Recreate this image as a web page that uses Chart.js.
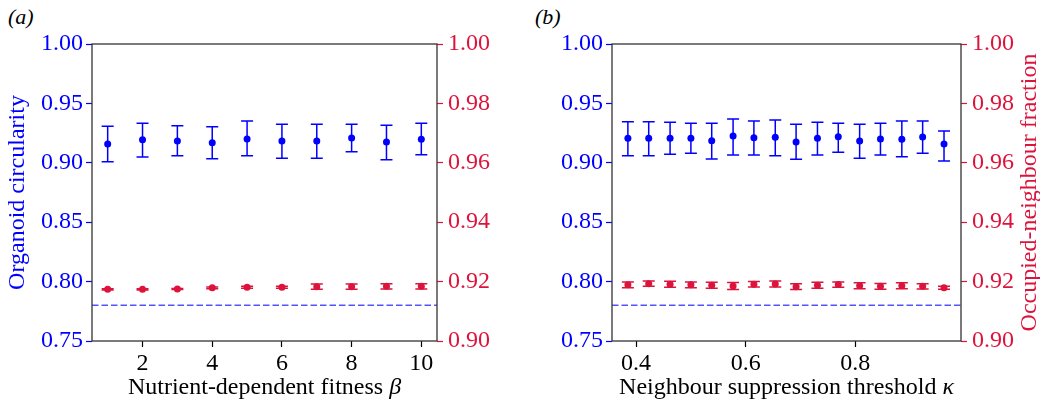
<!DOCTYPE html>
<html>
<head>
<meta charset="utf-8">
<script src="https://cdn.jsdelivr.net/npm/chart.js@4.4.1/dist/chart.umd.min.js"></script>
<style>
  body { margin: 0; background: #fff; width: 1040px; height: 406px; position: relative; overflow: hidden; }
  canvas { position: absolute; top: 0; }
  #chartA { left: 0; }
  #chartB { left: 520px; }
  .panel-tag { position: absolute; top: 4px; font: italic 22px "Liberation Serif", serif; color: #000; }
</style>
</head>
<body>
<span class="panel-tag" style="left:8px">(a)</span>
<span class="panel-tag" style="left:535px">(b)</span>
<canvas id="chartA" width="520" height="406"></canvas>
<canvas id="chartB" width="520" height="406"></canvas>
<script>
// panel (a): nutrient-dependent fitness beta
var betaValues = [1, 2, 3, 4, 5, 6, 7, 8, 9, 10];
var circA     = [0.9158, 0.9194, 0.9184, 0.9169, 0.9200, 0.9184, 0.9184, 0.9209, 0.9175, 0.9198];
var circALow  = [0.9009, 0.9049, 0.9060, 0.9034, 0.9060, 0.9038, 0.9038, 0.9093, 0.9026, 0.9068];
var circAHigh = [0.9307, 0.9332, 0.9312, 0.9304, 0.9352, 0.9324, 0.9324, 0.9324, 0.9316, 0.9332];
var occA      = [0.9174, 0.9174, 0.9175, 0.9179, 0.9181, 0.9181, 0.9183, 0.9183, 0.9184, 0.9184];
var occAErr   = [0.0002, 0.0002, 0.0002, 0.0003, 0.0003, 0.0003, 0.0009, 0.0009, 0.0009, 0.0009];

// panel (b): neighbour suppression threshold kappa
var kappaValues = [0.385, 0.423, 0.462, 0.500, 0.538, 0.577, 0.615, 0.654, 0.692, 0.731, 0.769, 0.808, 0.846, 0.885, 0.923, 0.962];
var circB     = [0.9206, 0.9206, 0.9206, 0.9206, 0.9186, 0.9226, 0.9211, 0.9215, 0.9175, 0.9206, 0.9220, 0.9184, 0.9200, 0.9198, 0.9217, 0.9158];
var circBLow  = [0.9060, 0.9060, 0.9072, 0.9080, 0.9032, 0.9066, 0.9066, 0.9060, 0.9029, 0.9066, 0.9088, 0.9038, 0.9066, 0.9051, 0.9080, 0.9015];
var circBHigh = [0.9346, 0.9346, 0.9341, 0.9333, 0.9333, 0.9369, 0.9352, 0.9360, 0.9324, 0.9341, 0.9333, 0.9324, 0.9333, 0.9352, 0.9352, 0.9268];
var occB      = [0.9189, 0.9193, 0.9191, 0.9189, 0.9188, 0.9185, 0.9191, 0.9192, 0.9183, 0.9188, 0.9190, 0.9186, 0.9184, 0.9186, 0.9184, 0.9179];
var occBErr   = [0.0010, 0.0009, 0.0010, 0.0010, 0.0010, 0.0012, 0.0009, 0.0010, 0.0010, 0.0010, 0.0009, 0.0010, 0.0010, 0.0010, 0.0009, 0.0005];

var baselineCirc = 0.78;

var xTicksA = [2, 4, 6, 8, 10];
var xTicksB = [0.4, 0.6, 0.8];
var yTicksLeft = [0.75, 0.80, 0.85, 0.90, 0.95, 1.00];
var yTicksRight = [0.90, 0.92, 0.94, 0.96, 0.98, 1.00];

var BLUE = '#0000ff';
var CRIMSON = '#dc143c';
var SERIF = '"Liberation Serif", "Times New Roman", serif';

toPoints = function(xs, ys) {
  return xs.map(function(x, i) { return {x: x, y: ys[i]}; });
}

fixTicks = function(values) {
  return function(scale) {
    scale.ticks = values.map(function(v) { return {value: v}; });
  };
}

// error bars, frame and the axis labels that Chart.js cannot style (italic symbol, bottom-to-top right label)
var extrasPlugin = {
  id: 'extras',
  beforeDatasetsDraw: function(chart) {
    var ctx = chart.ctx;
    chart.data.datasets.forEach(function(ds) {
      if (!ds.errLow) return;
      var xs = chart.scales.x, ys = chart.scales[ds.yAxisID];
      ctx.save();
      ctx.strokeStyle = ds.borderColor;
      ctx.lineWidth = 1.5;
      ds.data.forEach(function(p, k) {
        var px = xs.getPixelForValue(p.x);
        var top = ys.getPixelForValue(ds.errHigh[k]);
        var bot = ys.getPixelForValue(ds.errLow[k]);
        ctx.beginPath();
        ctx.moveTo(px, top); ctx.lineTo(px, bot);
        ctx.moveTo(px - 6, top); ctx.lineTo(px + 6, top);
        ctx.moveTo(px - 6, bot); ctx.lineTo(px + 6, bot);
        ctx.stroke();
      });
      ctx.restore();
    });
  },
  afterDraw: function(chart, args, opts) {
    var ctx = chart.ctx, a = chart.chartArea;
    ctx.save();
    ctx.strokeStyle = '#333';
    ctx.lineWidth = 1.3;
    ctx.strokeRect(a.left, a.top, a.right - a.left, a.bottom - a.top);

    ctx.textBaseline = 'middle';
    ctx.fillStyle = '#000';
    ctx.font = '24px ' + SERIF;
    var w1 = ctx.measureText(opts.xLabel).width;
    ctx.font = 'italic 24px ' + SERIF;
    var w2 = ctx.measureText(opts.xSymbol).width;
    var x0 = (a.left + a.right) / 2 - (w1 + w2) / 2;
    ctx.textAlign = 'left';
    ctx.font = '24px ' + SERIF;
    ctx.fillText(opts.xLabel, x0, 388);
    ctx.font = 'italic 24px ' + SERIF;
    ctx.fillText(opts.xSymbol, x0 + w1, 388);

    if (opts.rightLabel) {
      ctx.translate(chart.width - 10, (a.top + a.bottom) / 2);
      ctx.rotate(-Math.PI / 2);
      ctx.textAlign = 'center';
      ctx.fillStyle = CRIMSON;
      ctx.font = '24px ' + SERIF;
      ctx.fillText(opts.rightLabel, 0, 0);
    }
    ctx.restore();
  }
};

makePanel = function(canvasId, xs, circ, circLow, circHigh, occ, occErr, panel) {
  var ctx = document.getElementById(canvasId).getContext('2d');
  return new Chart(ctx, {
    type: 'scatter',
    data: {
      datasets: [
        {
          label: 'baseline',
          data: [{x: panel.xMin, y: baselineCirc}, {x: panel.xMax, y: baselineCirc}],
          yAxisID: 'y',
          showLine: true,
          borderColor: 'rgba(40,40,255,0.8)',
          borderWidth: 1.5,
          borderDash: [6.5, 3],
          pointRadius: 0
        },
        {
          label: 'circularity',
          data: toPoints(xs, circ),
          yAxisID: 'y',
          backgroundColor: BLUE,
          borderColor: BLUE,
          pointRadius: 3.5,
          pointBorderWidth: 0,
          errLow: circLow,
          errHigh: circHigh
        },
        {
          label: 'occupied',
          data: toPoints(xs, occ),
          yAxisID: 'y1',
          backgroundColor: CRIMSON,
          borderColor: CRIMSON,
          pointRadius: 3.5,
          pointBorderWidth: 0,
          errLow: occ.map(function(v, i) { return v - occErr[i]; }),
          errHigh: occ.map(function(v, i) { return v + occErr[i]; })
        }
      ]
    },
    options: {
      responsive: false,
      animation: false,
      devicePixelRatio: 1,
      layout: { padding: { top: 44, left: 0, right: 0, bottom: 0 } },
      plugins: {
        legend: { display: false },
        tooltip: { enabled: false },
        extras: { xLabel: panel.xLabel, xSymbol: panel.xSymbol, rightLabel: panel.rightLabel }
      },
      scales: {
        x: {
          type: 'linear',
          min: panel.xMin,
          max: panel.xMax,
          afterBuildTicks: fixTicks(panel.xTicks),
          afterFit: function(s) { s.height = 65; },
          border: { display: false },
          grid: { display: true, drawOnChartArea: false, drawTicks: true, tickLength: 6, tickColor: '#000', tickWidth: 1.2 },
          ticks: {
            color: '#000',
            padding: 2,
            maxRotation: 0,
            font: { family: SERIF, size: 24 },
            callback: panel.xFormat
          }
        },
        y: {
          position: 'left',
          min: 0.75,
          max: 1.0,
          afterBuildTicks: fixTicks(yTicksLeft),
          afterFit: function(s) { s.width = 92; },
          border: { display: false },
          grid: { display: true, drawOnChartArea: false, drawTicks: true, tickLength: 6, tickColor: BLUE, tickWidth: 1.2 },
          ticks: {
            color: BLUE,
            padding: 3,
            font: { family: SERIF, size: 24 },
            callback: function(v) { return v.toFixed(2); }
          },
          title: {
            display: !!panel.leftLabel,
            text: panel.leftLabel || '',
            color: BLUE,
            font: { family: SERIF, size: 24, lineHeight: 1 },
            padding: { top: 6, bottom: 0 }
          }
        },
        y1: {
          position: 'right',
          min: 0.90,
          max: 1.0,
          afterBuildTicks: fixTicks(yTicksRight),
          afterFit: function(s) { s.width = panel.rightWidth; },
          border: { display: false },
          grid: { display: true, drawOnChartArea: false, drawTicks: true, tickLength: 6, tickColor: CRIMSON, tickWidth: 1.2 },
          ticks: {
            color: CRIMSON,
            padding: 5,
            font: { family: SERIF, size: 24 },
            callback: function(v) { return v.toFixed(2); }
          }
        }
      }
    },
    plugins: [extrasPlugin]
  });
}

window.chartA = makePanel('chartA', betaValues, circA, circALow, circAHigh, occA, occAErr, {
  xMin: 0.55, xMax: 10.45, xTicks: xTicksA,
  xFormat: function(v) { return String(v); },
  xLabel: 'Nutrient-dependent fitness ', xSymbol: 'β',
  leftLabel: 'Organoid circularity', rightLabel: null, rightWidth: 83
});

window.chartB = makePanel('chartB', kappaValues, circB, circBLow, circBHigh, occB, occBErr, {
  xMin: 0.356, xMax: 0.993, xTicks: xTicksB,
  xFormat: function(v) { return v.toFixed(1); },
  xLabel: 'Neighbour suppression threshold ', xSymbol: 'κ',
  leftLabel: null, rightLabel: 'Occupied-neighbour fraction', rightWidth: 79
});
</script>
</body>
</html>
